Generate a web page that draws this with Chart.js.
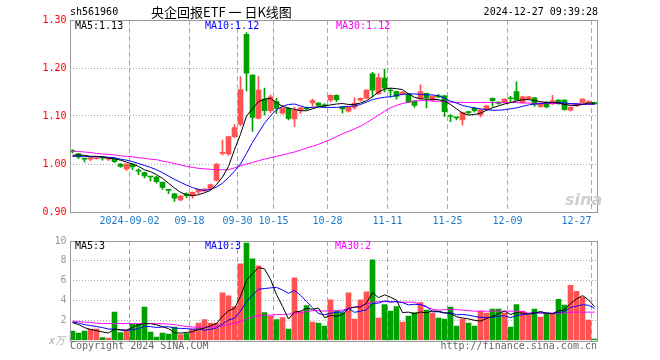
<!DOCTYPE html>
<html><head><meta charset="utf-8">
<script src="https://cdn.jsdelivr.net/npm/chart.js@4.4.1/dist/chart.umd.min.js"></script>
<style>
html,body{margin:0;padding:0;background:#fff;width:660px;height:360px;overflow:hidden;position:relative}
canvas{position:absolute;left:0}
.t{position:absolute;white-space:pre;font-family:"DejaVu Sans Mono",monospace;font-size:10px;line-height:12px;color:#000}
</style></head><body>
<canvas id="pc" width="660" height="232" style="top:0px"></canvas>
<canvas id="vc" width="660" height="128" style="top:232px"></canvas>
<div class="t" style="left:70px;top:6px">sh561960</div>
<div class="t" style="left:151px;top:3px;font-family:'Noto Sans CJK SC',sans-serif;font-size:13px;line-height:18px">央企回报ETF 一 日K线图</div>
<div class="t" style="right:62px;top:6px">2024-12-27 09:39:28</div>
<div class="t" style="left:75px;top:20px">MA5:1.13</div>
<div class="t" style="left:205px;top:20px;color:#0000ff">MA10:1.12</div>
<div class="t" style="left:336px;top:20px;color:#ff00ff">MA30:1.12</div>
<div class="t" style="left:75px;top:240px">MA5:3</div>
<div class="t" style="left:205px;top:240px;color:#0000ff">MA10:3</div>
<div class="t" style="left:335px;top:240px;color:#ff00ff">MA30:2</div>
<div class="t" style="left:49px;top:335px;color:#aaa;font-style:italic">x万</div>
<div class="t" style="left:70px;top:340px;color:#666">Copyright 2024 SINA.COM</div>
<div class="t" style="right:63px;top:340px;color:#666">http://finance.sina.com.cn</div>
<div class="t" style="left:565px;top:190px;font:italic bold 16px 'DejaVu Sans',sans-serif;color:#cfcfcf">sina</div>
<script>
const dates = [
'2024-08-19','2024-08-20','2024-08-21','2024-08-22','2024-08-23','2024-08-26','2024-08-27','2024-08-28','2024-08-29','2024-08-30',
'2024-09-02','2024-09-03','2024-09-04','2024-09-05','2024-09-06','2024-09-09','2024-09-10','2024-09-11','2024-09-12','2024-09-13',
'2024-09-18','2024-09-19','2024-09-20','2024-09-23','2024-09-24','2024-09-25','2024-09-26','2024-09-27','2024-09-30','2024-10-08',
'2024-10-09','2024-10-10','2024-10-11','2024-10-14','2024-10-15','2024-10-16','2024-10-17','2024-10-18','2024-10-21','2024-10-22',
'2024-10-23','2024-10-24','2024-10-25','2024-10-28','2024-10-29','2024-10-30','2024-10-31','2024-11-01','2024-11-04','2024-11-05',
'2024-11-06','2024-11-07','2024-11-08','2024-11-11','2024-11-12','2024-11-13','2024-11-14','2024-11-15','2024-11-18','2024-11-19',
'2024-11-20','2024-11-21','2024-11-22','2024-11-25','2024-11-26','2024-11-27','2024-11-28','2024-11-29','2024-12-02','2024-12-03',
'2024-12-04','2024-12-05','2024-12-06','2024-12-09','2024-12-10','2024-12-11','2024-12-12','2024-12-13','2024-12-16','2024-12-17',
'2024-12-18','2024-12-19','2024-12-20','2024-12-23','2024-12-24','2024-12-25','2024-12-26','2024-12-27'];
const tickDates = ['2024-09-02','2024-09-18','2024-09-30','2024-10-15','2024-10-28','2024-11-11','2024-11-25','2024-12-09','2024-12-27'];
const tickTexts = ['2024-09-02','09-18','09-30','10-15','10-28','11-11','11-25','12-09','12-27'];
const priceTicks = [0.90,1.00,1.10,1.20,1.30];
const volTicks = [0,2,4,6,8,10];

const open = [1.027,1.021,1.011,1.010,1.011,1.013,1.010,1.011,1.000,0.990,
1.000,0.986,0.982,0.974,0.973,0.962,0.946,0.938,0.925,0.938,
0.934,0.942,0.944,0.948,0.966,1.022,1.021,1.057,1.083,1.270,
1.185,1.095,1.135,1.111,1.130,1.106,1.116,1.094,1.112,1.116,
1.127,1.127,1.122,1.133,1.143,1.119,1.110,1.118,1.133,1.137,
1.188,1.146,1.179,1.153,1.151,1.146,1.146,1.131,1.136,1.147,
1.133,1.142,1.142,1.100,1.097,1.092,1.108,1.116,1.102,1.113,
1.137,1.129,1.128,1.137,1.151,1.128,1.135,1.138,1.120,1.129,
1.125,1.133,1.133,1.112,1.121,1.128,1.128,1.128];
const high = [1.030,1.022,1.011,1.014,1.014,1.014,1.014,1.012,1.001,1.001,
1.001,0.990,0.983,0.974,0.975,0.963,0.946,0.939,0.934,0.940,
0.942,0.948,0.949,0.958,1.001,1.050,1.058,1.082,1.182,1.274,
1.186,1.182,1.158,1.144,1.137,1.122,1.118,1.118,1.118,1.119,
1.135,1.128,1.126,1.144,1.144,1.120,1.119,1.138,1.138,1.155,
1.191,1.188,1.197,1.158,1.152,1.152,1.147,1.132,1.165,1.148,
1.142,1.145,1.143,1.103,1.097,1.108,1.110,1.118,1.114,1.122,
1.138,1.130,1.136,1.141,1.171,1.141,1.141,1.139,1.128,1.130,
1.143,1.134,1.134,1.119,1.127,1.136,1.132,1.129];
const low = [1.023,1.011,1.004,1.007,1.010,1.008,1.007,1.003,0.993,0.986,
0.988,0.978,0.971,0.965,0.960,0.947,0.938,0.922,0.923,0.930,
0.929,0.938,0.943,0.946,0.965,1.019,1.018,1.055,1.080,1.152,
1.068,1.094,1.102,1.107,1.105,1.104,1.092,1.078,1.105,1.113,
1.120,1.120,1.118,1.130,1.130,1.106,1.108,1.114,1.131,1.136,
1.140,1.145,1.150,1.140,1.135,1.144,1.128,1.118,1.134,1.117,
1.131,1.138,1.099,1.088,1.092,1.081,1.104,1.108,1.098,1.112,
1.120,1.124,1.127,1.130,1.133,1.127,1.134,1.120,1.118,1.117,
1.124,1.124,1.112,1.110,1.120,1.127,1.126,1.124];
const close = [1.026,1.015,1.010,1.013,1.013,1.012,1.013,1.005,0.995,1.000,
0.994,0.985,0.975,0.973,0.963,0.951,0.945,0.929,0.933,0.934,
0.941,0.947,0.948,0.957,1.000,1.024,1.057,1.076,1.155,1.189,
1.097,1.154,1.111,1.140,1.116,1.116,1.095,1.112,1.117,1.115,
1.132,1.122,1.121,1.143,1.134,1.115,1.118,1.127,1.137,1.154,
1.154,1.180,1.158,1.152,1.141,1.150,1.129,1.122,1.151,1.138,
1.141,1.140,1.109,1.099,1.096,1.107,1.107,1.111,1.113,1.121,
1.132,1.126,1.135,1.136,1.133,1.140,1.140,1.124,1.127,1.119,
1.132,1.129,1.113,1.118,1.126,1.135,1.129,1.125];
const ma5 = [1.018,1.019,1.018,1.016,1.016,1.015,1.012,1.011,1.008,1.004,
1.000,0.995,0.988,0.984,0.978,0.970,0.960,0.950,0.941,0.936,
0.934,0.936,0.940,0.945,0.957,0.973,0.995,1.030,1.062,1.100,
1.115,1.130,1.135,1.137,1.128,1.120,1.116,1.114,1.111,1.111,
1.115,1.119,1.121,1.123,1.125,1.126,1.124,1.124,1.127,1.132,
1.140,1.150,1.156,1.158,1.157,1.155,1.146,1.139,1.136,1.135,
1.135,1.134,1.131,1.124,1.115,1.106,1.102,1.103,1.106,1.112,
1.117,1.121,1.125,1.128,1.131,1.134,1.134,1.132,1.130,1.128,
1.128,1.127,1.124,1.122,1.122,1.124,1.127,1.127];
const ma10 = [1.016,1.016,1.016,1.015,1.015,1.015,1.014,1.013,1.010,1.008,
1.005,1.001,0.997,0.993,0.988,0.982,0.975,0.968,0.962,0.956,
0.951,0.947,0.945,0.947,0.952,0.960,0.972,0.985,1.000,1.022,
1.045,1.065,1.085,1.100,1.113,1.120,1.124,1.125,1.121,1.117,
1.118,1.119,1.118,1.118,1.118,1.119,1.120,1.121,1.124,1.129,
1.134,1.137,1.139,1.140,1.143,1.145,1.146,1.146,1.145,1.144,
1.144,1.142,1.137,1.131,1.127,1.122,1.119,1.117,1.115,1.113,
1.112,1.112,1.113,1.115,1.117,1.120,1.123,1.125,1.126,1.127,
1.128,1.128,1.127,1.126,1.125,1.125,1.125,1.125];
const ma30 = [1.027,1.026,1.025,1.024,1.022,1.021,1.020,1.019,1.017,1.016,
1.015,1.013,1.012,1.010,1.009,1.006,1.004,1.001,0.998,0.995,
0.993,0.991,0.990,0.989,0.988,0.988,0.988,0.992,0.996,1.000,
1.003,1.007,1.010,1.013,1.016,1.019,1.022,1.025,1.029,1.033,
1.037,1.041,1.046,1.051,1.057,1.063,1.068,1.073,1.079,1.086,
1.094,1.102,1.110,1.117,1.122,1.126,1.129,1.131,1.132,1.132,
1.131,1.131,1.130,1.129,1.128,1.128,1.128,1.128,1.128,1.128,
1.128,1.128,1.128,1.128,1.128,1.127,1.127,1.126,1.126,1.126,
1.126,1.126,1.125,1.125,1.125,1.124,1.124,1.124];

const vol = [0.95,0.75,0.95,1.15,1.15,0.3,0.25,2.85,0.8,1.0,
1.65,1.65,3.35,0.85,0.35,0.75,0.65,1.35,0.6,0.7,
1.15,1.75,2.1,1.75,1.75,4.8,4.5,3.4,7.7,9.8,
8.2,7.5,2.8,2.45,2.1,2.3,1.15,6.3,2.9,3.5,
1.85,1.75,1.45,4.1,2.95,2.8,4.8,2.15,4.1,4.9,
8.1,2.25,3.6,2.95,3.4,1.85,2.45,2.8,3.8,3.05,
2.75,2.25,2.15,3.35,1.45,2.15,1.75,1.45,2.95,2.75,
3.15,3.15,2.75,1.35,3.6,2.95,2.55,3.15,2.35,2.65,
2.65,4.15,3.55,5.55,4.95,4.35,2.05,0.15];
const vma5 = [1.8,1.6,1.3,1.1,0.99,0.86,0.76,1.14,1.07,1.04,
1.31,1.59,1.69,1.70,1.57,1.39,1.19,0.79,0.74,0.81,
0.89,1.11,1.26,1.49,1.70,2.43,2.98,3.24,4.43,6.04,
6.72,7.32,7.20,6.15,4.61,3.43,2.16,2.86,2.95,3.23,
3.14,3.26,2.29,2.53,2.42,2.61,3.22,3.36,3.36,3.75,
4.81,4.30,4.59,4.36,4.06,2.81,2.85,2.69,2.86,2.79,
2.97,2.93,2.80,2.71,2.39,2.27,2.17,2.03,1.95,2.21,
2.41,2.69,2.95,2.63,2.80,2.76,2.64,2.72,2.92,2.73,
2.67,2.99,3.07,3.71,4.17,4.51,4.09,3.41];
const vma10 = [1.85,1.75,1.6,1.5,1.4,1.3,1.15,1.15,1.05,1.02,
1.09,1.18,1.42,1.39,1.31,1.35,1.39,1.24,1.22,1.19,
1.14,1.15,1.03,1.12,1.26,1.66,2.05,2.25,2.96,3.87,
4.58,5.15,5.22,5.29,5.33,5.08,4.74,5.03,4.55,3.92,
3.29,2.71,2.58,2.74,2.83,2.88,3.24,2.83,2.95,3.09,
3.71,3.76,3.98,3.86,3.91,3.81,3.58,3.64,3.61,3.43,
2.89,2.89,2.75,2.79,2.59,2.62,2.55,2.42,2.33,2.30,
2.34,2.43,2.49,2.29,2.51,2.59,2.67,2.84,2.78,2.77,
2.72,2.82,2.90,3.32,3.45,3.59,3.54,3.24];
const vma30 = [1.95,1.9,1.85,1.8,1.75,1.7,1.7,1.7,1.7,1.7,
1.7,1.7,1.7,1.7,1.7,1.68,1.65,1.6,1.5,1.4,
1.35,1.35,1.35,1.35,1.4,1.5,1.6,1.75,1.9,2.15,
2.4,2.45,2.55,2.55,2.6,2.6,2.65,2.7,2.8,2.9,
3.0,3.0,2.95,3.0,3.0,3.05,3.25,3.35,3.5,3.65,
3.85,3.9,3.9,3.9,3.9,3.85,3.85,3.85,3.6,3.35,
3.15,3.05,3.1,3.1,3.1,3.05,3.0,2.95,2.95,2.95,
2.95,2.95,2.95,2.95,2.95,2.9,2.75,2.75,2.75,2.75,
2.75,2.75,2.75,2.85,2.85,2.85,2.85,2.85];

const UP = '#ff5353', DOWN = '#00a000';
const GRID = '#a8a8a8', FRAME = '#999999';
const MONO = "'DejaVu Sans Mono', monospace";
const candleColors = open.map((o, i) => close[i] >= o ? UP : DOWN);

const framePlugin = {
  id: 'frame',
  afterDraw(chart) {
    const {ctx, chartArea: a} = chart;
    ctx.save();
    ctx.strokeStyle = FRAME; ctx.lineWidth = 1; ctx.setLineDash([]);
    const l = Math.ceil(a.left) + 0.5, r = Math.floor(a.right) + 0.5;
    const t = Math.round(a.top) + 0.5, b = Math.round(a.bottom) + 0.5;
    ctx.strokeRect(l, t, r - l, b - t);
    ctx.restore();
  }
};

function xGridColor(c) {
  const d = dates[c.index];
  return (d && tickDates.indexOf(d) >= 0) ? GRID : 'rgba(0,0,0,0)';
}
function lineDs(data, color) {
  return {type: 'line', data, borderColor: color, borderWidth: 1, pointRadius: 0,
          fill: false, tension: 0, order: 1};
}
const common = {
  responsive: false, animation: false, devicePixelRatio: 1, events: [],
  plugins: {legend: {display: false}, tooltip: {enabled: false}, title: {display: false}}
};

new Chart(document.getElementById('pc'), {
  type: 'bar',
  data: {
    labels: dates,
    datasets: [
      lineDs(ma5, '#000000'), lineDs(ma10, '#0000ff'), lineDs(ma30, '#ff00ff'),
      {type: 'bar', data: open.map((o, i) => [low[i], high[i]]), backgroundColor: candleColors,
       barThickness: 1, grouped: false, order: 3},
      {type: 'bar', data: open.map((o, i) => [o, close[i]]), backgroundColor: candleColors,
       barThickness: 5, minBarLength: 1, grouped: false, order: 2}
    ]
  },
  options: Object.assign({}, common, {
    layout: {padding: {left: 0, right: 62.5, top: 20, bottom: 0}},
    scales: {
      x: {
        type: 'category', offset: true,
        grid: {offset: true, drawTicks: false, color: xGridColor, lineWidth: 1},
        border: {display: false, dash: [5, 3]},
        ticks: {autoSkip: false, maxRotation: 0, minRotation: 0, padding: 3, labelOffset: -3,
                color: '#1a78c8', font: {family: MONO, size: 10},
                callback: (v, i) => {
                  const k = tickDates.indexOf(dates[i]);
                  if (k < 0) return '';
                  return i === dates.length - 1 ? tickTexts[k] + '     ' : tickTexts[k];
                }},
        afterFit: s => { s.height = 20; }
      },
      y: {
        type: 'linear', min: priceTicks[0], max: priceTicks[priceTicks.length - 1],
        afterBuildTicks: s => { s.ticks = priceTicks.map(v => ({value: v})); },
        grid: {drawTicks: false, lineWidth: 1,
               color: c => (c.tick && (c.tick.value === priceTicks[0] || c.tick.value === priceTicks[priceTicks.length - 1])) ? 'rgba(0,0,0,0)' : GRID},
        border: {display: false, dash: [1, 2]},
        ticks: {padding: 3, color: '#ff0000', font: {family: MONO, size: 10},
                callback: v => Number(v).toFixed(2)},
        afterFit: s => { s.width = 69.5; }
      }
    }
  }),
  plugins: [framePlugin]
});

new Chart(document.getElementById('vc'), {
  type: 'bar',
  data: {
    labels: dates,
    datasets: [
      lineDs(vma5, '#000000'), lineDs(vma10, '#0000ff'), lineDs(vma30, '#ff00ff'),
      {type: 'bar', data: vol, backgroundColor: candleColors, barThickness: 5, grouped: false, order: 2}
    ]
  },
  options: Object.assign({}, common, {
    layout: {padding: {left: 0, right: 62.5, top: 8, bottom: 19.5}},
    scales: {
      x: {
        type: 'category', offset: true,
        grid: {offset: true, drawTicks: false, color: xGridColor, lineWidth: 1},
        border: {display: false, dash: [5, 3]},
        ticks: {display: false},
        afterFit: s => { s.height = 0; }
      },
      y: {
        type: 'linear', min: volTicks[0], max: volTicks[volTicks.length - 1],
        afterBuildTicks: s => { s.ticks = volTicks.map(v => ({value: v})); },
        grid: {drawTicks: false, lineWidth: 1,
               color: c => (c.tick && (c.tick.value === volTicks[0] || c.tick.value === volTicks[volTicks.length - 1])) ? 'rgba(0,0,0,0)' : GRID},
        border: {display: false, dash: [1, 2]},
        ticks: {padding: 3, color: '#999999', font: {family: MONO, size: 10},
                callback: v => v === 0 ? '' : String(v)},
        afterFit: s => { s.width = 69.5; }
      }
    }
  }),
  plugins: [framePlugin]
});
</script>
</body></html>
